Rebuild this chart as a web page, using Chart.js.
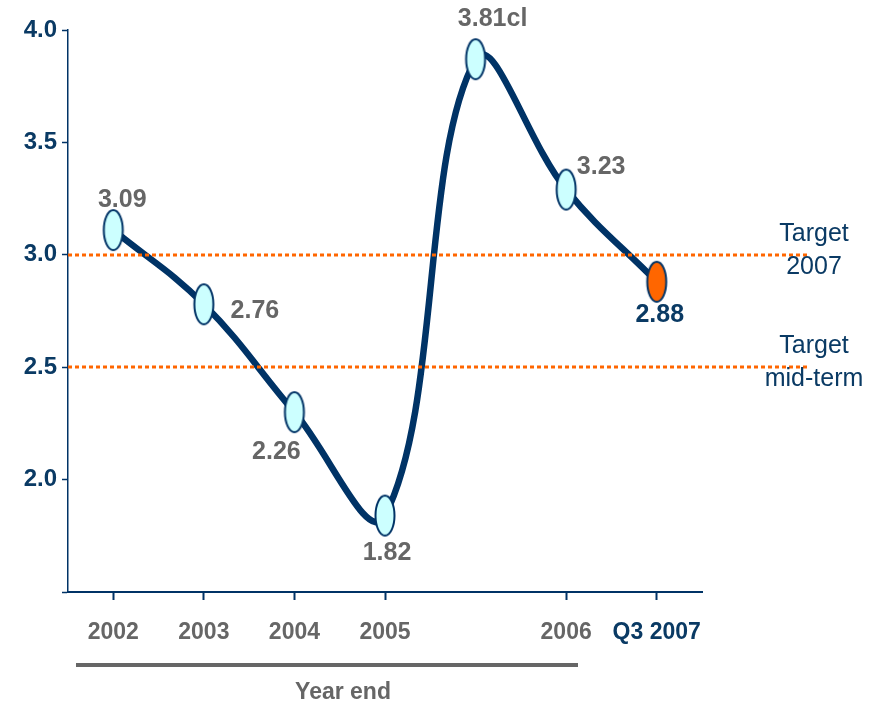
<!DOCTYPE html>
<html>
<head>
<meta charset="utf-8">
<script src="https://cdn.jsdelivr.net/npm/chart.js@4/dist/chart.umd.min.js"></script>
<style>
  html, body { margin: 0; padding: 0; background: #fff; }
  #wrap { width: 870px; height: 705px; }
</style>
</head>
<body>
<div id="wrap"><canvas id="lineChart" width="870" height="705"></canvas></div>
<script>
// data
var categories = ['2002', '2003', '2004', '2005', '', '2006', 'Q3 2007'];
var ratioValues = [3.11, 2.78, 2.30, 1.84, 3.87, 3.29, 2.88];
var valueLabels = ['3.09', '2.76', '2.26', '1.82', '3.81cl', '3.23', '2.88'];
var targetValues = [3.0, 2.5];
var targetNames = [['Target', '2007'], ['Target', 'mid-term']];
var yMin = 1.5, yMax = 4.0, yStep = 0.5;

var NAVY = '#0a3a64';
var LINE = '#003366';
var GREY = '#666666';
var ORANGE = '#ff6600';
var FONT = "'Liberation Sans', Arial, sans-serif";

// label offsets from each point (px)
var labelOffsets = [[9, -30], [51, 7], [-18, 40], [2, 38], [17, -40], [35, -22], [3, 33]];

function makeMarker(fill) {
  var c = document.createElement('canvas');
  c.width = 24; c.height = 44;
  var ctx = c.getContext('2d');
  ctx.beginPath();
  ctx.ellipse(12, 22, 9.5, 20, 0, 0, Math.PI * 2);
  ctx.fillStyle = fill;
  ctx.fill();
  ctx.lineWidth = 2;
  ctx.strokeStyle = LINE;
  ctx.stroke();
  return c;
}

var markerLight = makeMarker('#ccffff');
var markerOrange = makeMarker(ORANGE);
var markers = ratioValues.map(function (v, i) {
  return i == ratioValues.length - 1 ? markerOrange : markerLight;
});

var decorPlugin = {
  id: 'decor',
  afterDatasetsDraw: function (chart) {
    var ctx = chart.ctx, area = chart.chartArea, y = chart.scales.y;
    ctx.save();
    // target lines
    ctx.strokeStyle = ORANGE;
    ctx.lineWidth = 3;
    ctx.setLineDash([4, 3]);
    targetValues.forEach(function (t, i) {
      var py = Math.round(y.getPixelForValue(t));
      ctx.beginPath();
      ctx.moveTo(area.left, py);
      ctx.lineTo(area.right + 105, py);
      ctx.stroke();
      ctx.fillStyle = NAVY;
      ctx.font = '25px ' + FONT;
      ctx.textAlign = 'center';
      ctx.textBaseline = 'middle';
      ctx.fillText(targetNames[i][0], area.right + 112, py - 21);
      ctx.fillText(targetNames[i][1], area.right + 112, py + 12);
    });
    ctx.setLineDash([]);

    // value labels
    var meta = chart.getDatasetMeta(0);
    ctx.font = 'bold 25px ' + FONT;
    ctx.textAlign = 'center';
    ctx.textBaseline = 'middle';
    meta.data.forEach(function (pt, i) {
      ctx.fillStyle = i == meta.data.length - 1 ? NAVY : GREY;
      ctx.fillText(valueLabels[i], pt.x + labelOffsets[i][0], pt.y + labelOffsets[i][1]);
    });

    // "Year end" bracket
    ctx.strokeStyle = GREY;
    ctx.lineWidth = 4;
    ctx.beginPath();
    ctx.moveTo(76, 665);
    ctx.lineTo(578, 665);
    ctx.stroke();
    ctx.fillStyle = GREY;
    ctx.font = 'bold 23px ' + FONT;
    ctx.fillText('Year end', 343, 693);
    ctx.restore();
  }
};

new Chart(document.getElementById('lineChart').getContext('2d'), {
  type: 'line',
  data: {
    labels: categories,
    datasets: [{
      data: ratioValues,
      borderColor: LINE,
      borderWidth: 6.5,
      tension: 0.4,
      fill: false,
      pointStyle: markers,
      pointRadius: 10
    }]
  },
  options: {
    responsive: false,
    animation: false,
    events: [],
    layout: { padding: { top: 30, right: 168, left: 0, bottom: 0 } },
    plugins: { legend: { display: false }, tooltip: { enabled: false } },
    scales: {
      x: {
        offset: true,
        afterFit: function (scale) { scale.height = 113; },
        border: { color: LINE, width: 2 },
        grid: {
          offset: false,
          drawOnChartArea: false,
          tickLength: 8,
          tickWidth: 2,
          color: function (c) { return categories[c.index] === '' ? 'rgba(0,0,0,0)' : LINE; }
        },
        ticks: {
          autoSkip: false,
          maxRotation: 0,
          padding: 19,
          font: { family: FONT, size: 23, weight: 'bold' },
          color: function (c) { return c.index == categories.length - 1 ? NAVY : GREY; }
        }
      },
      y: {
        min: yMin,
        max: yMax,
        afterFit: function (scale) { scale.width = 68; },
        border: { color: LINE, width: 1.5 },
        grid: { drawOnChartArea: false, tickLength: 6, color: LINE, tickWidth: 1.5 },
        ticks: {
          stepSize: yStep,
          padding: 5,
          color: NAVY,
          font: { family: FONT, size: 24, weight: 'bold' },
          callback: function (v) { return v <= yMin ? '' : v.toFixed(1); }
        }
      }
    }
  },
  plugins: [decorPlugin]
});
</script>
</body>
</html>
